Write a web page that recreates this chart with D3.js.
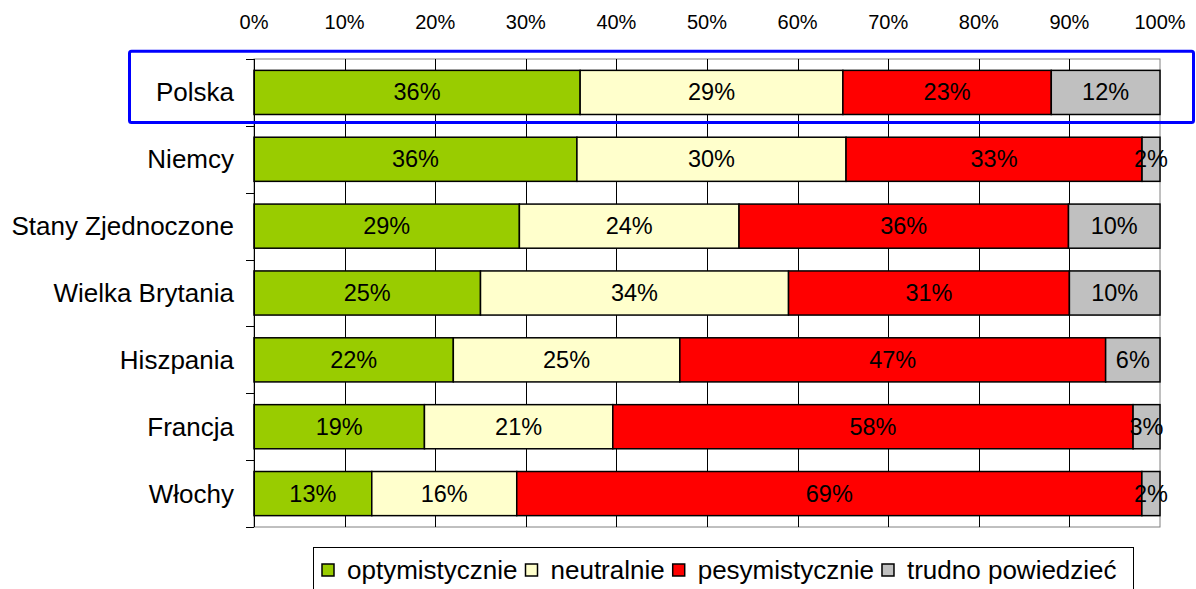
<!DOCTYPE html>
<html>
<head>
<meta charset="utf-8">
<script src="https://cdn.jsdelivr.net/npm/d3@7"></script>
<style>
  body { margin: 0; background: #fff; }
  text { font-family: "Liberation Sans", Arial, sans-serif; fill: #000; }
</style>
</head>
<body>
<script>
// countries, top to bottom
const countries = ["Polska", "Niemcy", "Stany Zjednoczone", "Wielka Brytania", "Hiszpania", "Francja", "Włochy"];

// answer shares in %
const optymistycznie = [36, 36, 29, 25, 22, 19, 13];
const neutralnie = [29, 30, 24, 34, 25, 21, 16];
const pesymistycznie = [23, 33, 36, 31, 47, 58, 69];
const trudno = [12, 2, 10, 10, 6, 3, 2];

const seriesNames = ["optymistycznie", "neutralnie", "pesymistycznie", "trudno powiedzieć"];
const seriesColors = ["#99cc00", "#ffffcc", "#ff0000", "#c0c0c0"];
const xTicks = [0, 0.1, 0.2, 0.3, 0.4, 0.5, 0.6, 0.7, 0.8, 0.9, 1];

const width = 1196;
const height = 589;

const rows = countries.map((c, i) => {
    const vals = [optymistycznie[i], neutralnie[i], pesymistycznie[i], trudno[i]];
    return { country: c, vals: vals, total: d3.sum(vals) };
});

const x = d3.scaleLinear().domain([0, 1]).range([254, 1160]);
const y = d3.scaleBand().domain(countries).range([59, 527]).paddingInner(0.34).paddingOuter(0.17);

const svg = d3.select("body").append("svg")
    .attr("width", width)
    .attr("height", height);

// plot area
svg.append("rect")
    .attr("x", x(0)).attr("y", 59)
    .attr("width", x(1) - x(0)).attr("height", 527 - 59)
    .attr("fill", "#fff")
    .attr("stroke", "#808080");

// vertical gridlines
svg.append("g").selectAll("line")
    .data(xTicks.slice(1, -1))
    .enter().append("line")
    .attr("x1", d => Math.round(x(d)) + 0.5).attr("x2", d => Math.round(x(d)) + 0.5)
    .attr("y1", 59).attr("y2", 527)
    .attr("stroke", "#000");

// top tick labels
svg.append("g").selectAll("text")
    .data(xTicks)
    .enter().append("text")
    .attr("x", d => x(d))
    .attr("y", 29)
    .attr("text-anchor", "middle")
    .style("font-size", "20px")
    .text(d3.format(".0%"));

// bars
const segs = [];
rows.forEach(r => {
    let acc = 0;
    r.vals.forEach((v, k) => {
        segs.push({ country: r.country, k: k, v: v, x0: acc / r.total, x1: (acc + v) / r.total });
        acc += v;
    });
});

svg.append("g").selectAll("rect")
    .data(segs)
    .enter().append("rect")
    .attr("x", d => x(d.x0))
    .attr("y", d => y(d.country))
    .attr("width", d => x(d.x1) - x(d.x0))
    .attr("height", y.bandwidth())
    .attr("fill", d => seriesColors[d.k])
    .attr("stroke", "#000")
    .attr("stroke-width", 1.5);

svg.append("g").selectAll("text")
    .data(segs)
    .enter().append("text")
    .attr("x", d => (x(d.x0) + x(d.x1)) / 2)
    .attr("y", d => y(d.country) + y.bandwidth() / 2 + 8)
    .attr("text-anchor", "middle")
    .style("font-size", "23.5px")
    .text(d => d.v + "%");

// left axis
svg.append("line")
    .attr("x1", 254.5).attr("x2", 254.5)
    .attr("y1", 59).attr("y2", 527)
    .attr("stroke", "#000");

const step = y.step();
const bounds = countries.map((c, i) => 59 + i * step).concat([527]);
svg.append("g").selectAll("line")
    .data(bounds)
    .enter().append("line")
    .attr("x1", 246).attr("x2", 254)
    .attr("y1", d => Math.round(d) + 0.5).attr("y2", d => Math.round(d) + 0.5)
    .attr("stroke", "#000");

svg.append("g").selectAll("text")
    .data(countries)
    .enter().append("text")
    .attr("x", 234)
    .attr("y", d => y(d) + y.bandwidth() / 2 + 9)
    .attr("text-anchor", "end")
    .style("font-size", "26px")
    .text(d => d);

// highlight round Polska
svg.append("rect")
    .attr("x", 129.5)
    .attr("y", y("Polska") - 19)
    .attr("width", 1064)
    .attr("height", y.bandwidth() + 27)
    .attr("rx", 2)
    .attr("fill", "none")
    .attr("stroke", "#0000ff")
    .attr("stroke-width", 3);

// legend
const legend = svg.append("g");
legend.append("rect")
    .attr("x", 313.5).attr("y", 547.5)
    .attr("width", 820).attr("height", 60)
    .attr("fill", "#fff")
    .attr("stroke", "#000");

let lx = 322;
seriesNames.forEach((name, k) => {
    legend.append("rect")
        .attr("x", lx).attr("y", 564)
        .attr("width", 12).attr("height", 12)
        .attr("fill", seriesColors[k])
        .attr("stroke", "#000")
        .attr("stroke-width", 1.5);
    const t = legend.append("text")
        .attr("x", lx + 25)
        .attr("y", 579)
        .style("font-size", "26px")
        .text(name);
    lx += 25 + t.node().getComputedTextLength() + 8;
});
</script>
</body>
</html>
